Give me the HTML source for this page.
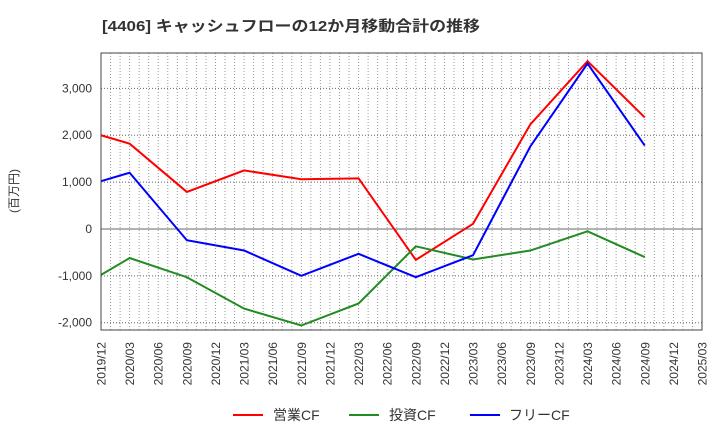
<!DOCTYPE html>
<html><head><meta charset="utf-8"><style>
body{margin:0;background:#fff;font-family:"Liberation Sans","Noto Sans CJK JP",sans-serif}
svg text{font-family:"Liberation Sans","Noto Sans CJK JP",sans-serif}
</style></head><body>
<svg id="c" width="720" height="440" xmlns="http://www.w3.org/2000/svg">
<text x="102" y="31" font-size="15" font-weight="bold" fill="#333" textLength="378" lengthAdjust="spacingAndGlyphs">[4406]  キャッシュフローの12か月移動合計の推移</text>
<text transform="translate(18,191) rotate(-90)" text-anchor="middle" font-size="12" fill="#333">(百万円)</text>
<g id="grid"></g><g id="series"></g>
<rect x="101" y="53" width="601" height="277" fill="none" stroke="#444" stroke-width="1"/>
<g>
<line x1="233" y1="415" x2="263" y2="415" stroke="#f00" stroke-width="2"/>
<text x="273" y="420" font-size="14" fill="#333">営業CF</text>
<line x1="349" y1="415" x2="379" y2="415" stroke="#228b22" stroke-width="2"/>
<text x="389" y="420" font-size="14" fill="#333">投資CF</text>
<line x1="470" y1="415" x2="500" y2="415" stroke="#00f" stroke-width="2"/>
<text x="509" y="420" font-size="14" fill="#333">フリーCF</text>
</g>
</svg>
<script>
const periods=["2019/12","2020/03","2020/09","2021/03","2021/09","2022/03","2022/09","2023/03","2023/09","2024/03","2024/09"];
const operatingCF=[2000,1820,790,1250,1060,1080,-660,110,2230,3580,2380];
const investingCF=[-980,-620,-1030,-1700,-2060,-1590,-370,-650,-460,-50,-600];
const freeCF=[1020,1200,-240,-460,-1000,-530,-1030,-560,1760,3530,1780];
const yTicks=[-2000,-1000,0,1000,2000,3000];
const xTickLabels=["2019/12","2020/03","2020/06","2020/09","2020/12","2021/03","2021/06","2021/09","2021/12","2022/03","2022/06","2022/09","2022/12","2023/03","2023/06","2023/09","2023/12","2024/03","2024/06","2024/09","2024/12","2025/03"];
const NS="http://www.w3.org/2000/svg";
const L=101,R=702,T=53,B=330,yMin=-2156,yMax=3755;
function mi(p){const[a,b]=p.split("/").map(Number);return (a-2019)*12+b-12;}
const X=p=>L+mi(p)*(R-L)/63;
const Y=v=>B-(v-yMin)*(B-T)/(yMax-yMin);
const g=document.getElementById("grid"),s=document.getElementById("series");
function mk(t,a,p){const e=document.createElementNS(NS,t);for(const k in a)e.setAttribute(k,a[k]);p.appendChild(e);return e;}
for(let m=1;m<63;m++){const x=L+m*(R-L)/63;
const e=mk("line",{x1:x,x2:x,y1:T,y2:B,stroke:"#999","stroke-dasharray":"1,2","stroke-width":1},g);

}
xTickLabels.forEach(p=>{const x=X(p);
const t=mk("text",{transform:`translate(${x+4.5},${B+12}) rotate(-90)`,"text-anchor":"end","font-size":12,fill:"#333"},g);t.textContent=p;

});
yTicks.forEach(v=>{const y=Y(v);
const e=mk("line",{x1:L,x2:R,y1:y,y2:y,stroke:"#666","stroke-dasharray":v===0?"":"1,2","stroke-width":1},g);


const t=mk("text",{x:L-9,y:y+4,"text-anchor":"end","font-size":12,fill:"#333"},g);t.textContent=v.toLocaleString("en-US");

});
[[operatingCF,"#f00","operating-cf-line"],[investingCF,"#228b22","investing-cf-line"],[freeCF,"#00f","free-cf-line"]].forEach(([d,c,n])=>{
const pl=mk("polyline",{points:d.map((v,i)=>X(periods[i])+","+Y(v)).join(" "),fill:"none",stroke:c,"stroke-width":2},s);

});
</script>
</body></html>
